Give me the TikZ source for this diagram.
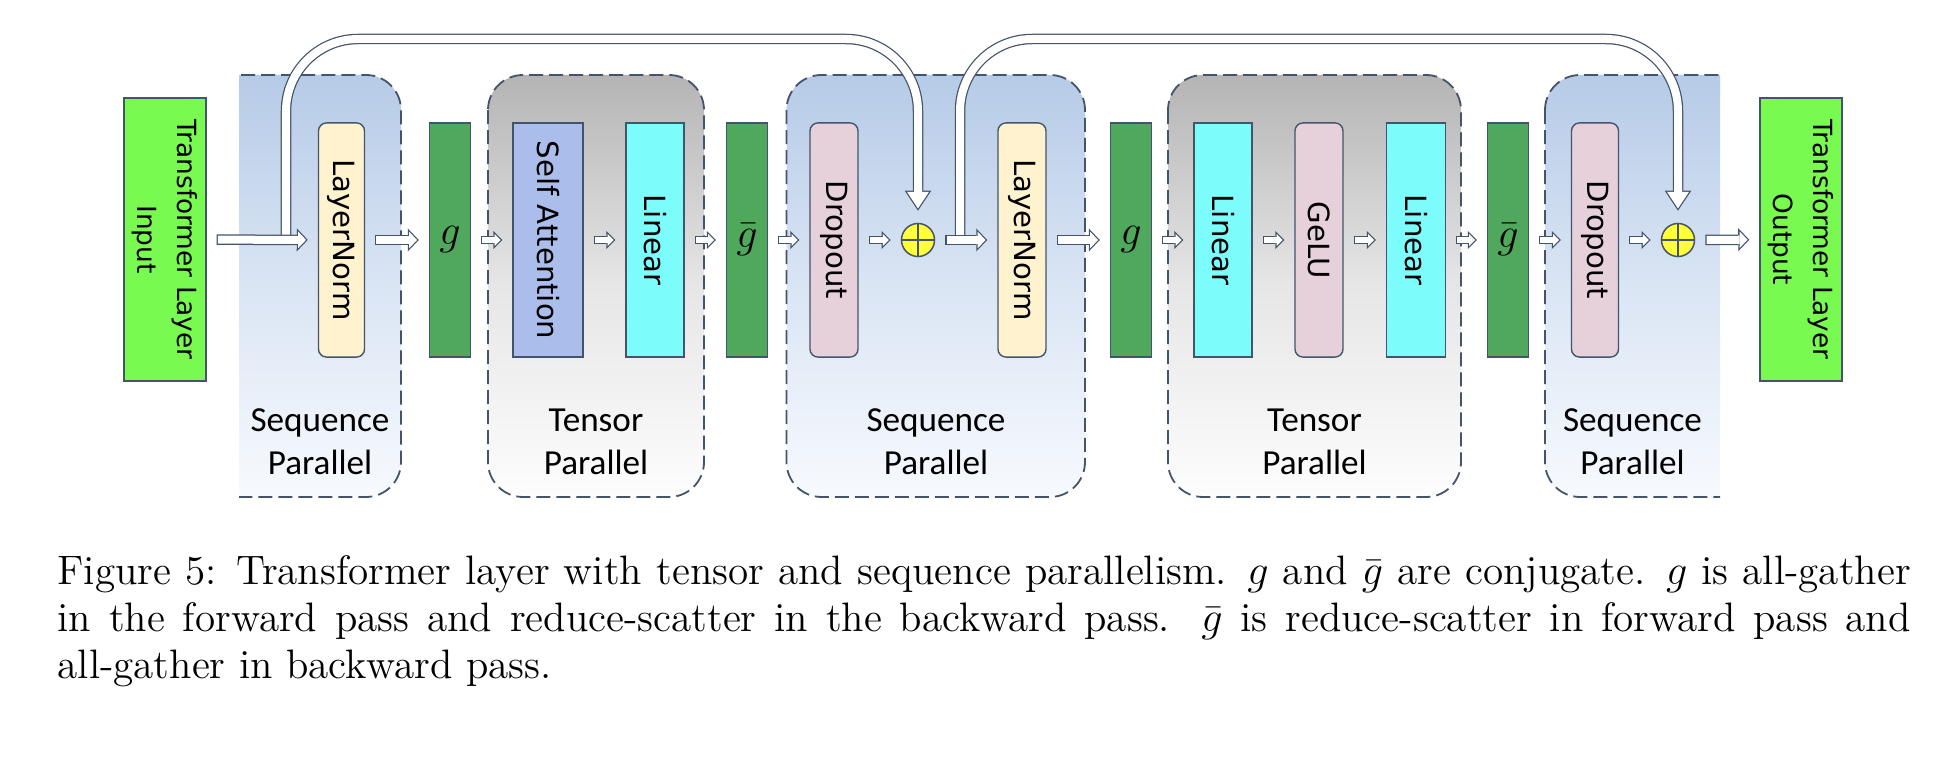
\documentclass[tikz,border=0pt]{standalone}
\usepackage{fontspec}
\usetikzlibrary{arrows.meta}

\newfontfamily\blockfont{DejaVu Sans}
\newfontfamily\groupfont{Carlito}

\definecolor{edge}{RGB}{68,84,106}
\definecolor{iogreen}{RGB}{120,250,80}
\definecolor{commgreen}{RGB}{80,168,92}
\definecolor{normyellow}{RGB}{255,242,206}
\definecolor{attnblue}{RGB}{170,189,235}
\definecolor{lincyan}{RGB}{125,252,252}
\definecolor{droppink}{RGB}{230,208,218}
\definecolor{addyellow}{RGB}{255,255,60}
\definecolor{seqtop}{RGB}{182,203,231}
\definecolor{seqmid}{RGB}{218,229,244}
\definecolor{seqbot}{RGB}{247,250,254}
\definecolor{tentop}{RGB}{180,180,180}
\definecolor{tenmid}{RGB}{230,230,230}
\definecolor{tenbot}{RGB}{253,253,253}

\begin{document}
\begin{tikzpicture}[x=0.01cm, y=-0.01cm,
    group/.style={draw=edge, line width=0.018cm, dash pattern=on 0.14cm off 0.06cm, rounded corners=0.35cm},
    seqgroup/.style={group, top color=seqtop, bottom color=seqbot, middle color=seqmid},
    tengroup/.style={group, top color=tentop, bottom color=tenbot, middle color=tenmid},
    grouplabel/.style={font=\groupfont\fontsize{10}{12}\selectfont, align=center, anchor=south, inner sep=0pt},
    block/.style={draw=edge, line width=0.014cm, rotate=-90, minimum width=2.34cm, inner sep=0pt,
      font=\blockfont\fontsize{8.3}{10}\selectfont},
    softblock/.style={block, rounded corners=0.08cm},
    iobox/.style={block, fill=iogreen, minimum width=2.83cm, minimum height=0.82cm, align=center,
      font=\blockfont\fontsize{7.5}{11.4}\selectfont},
    comm/.style={draw=edge, line width=0.014cm, fill=commgreen, minimum width=0.41cm, minimum height=2.34cm,
      inner sep=0pt, font=\fontsize{13}{15}\selectfont},
    add/.style={circle, draw=edge, line width=0.015cm, fill=addyellow, minimum size=0.33cm, inner sep=0pt,
      path picture={\draw[edge, line width=0.012cm] (path picture bounding box.north) -- (path picture bounding box.south)
        (path picture bounding box.west) -- (path picture bounding box.east);}},
    flow/.style={draw=white, line width=0.06cm, shorten <=0.1125cm, shorten >=0.1177cm,
      -{Triangle[length=0.06cm, width=0.12cm, line width=0pt]},
      preaction={draw=edge, line width=0.085cm, shorten <=0.1cm, shorten >=0.1cm,
        -{Triangle[length=0.09cm, width=0.18cm, line width=0pt]}}},
    bigflow/.style={draw=white, line width=0.08cm, shorten <=0.1125cm, shorten >=0.1173cm,
      -{Triangle[length=0.08cm, width=0.168cm, line width=0pt]},
      preaction={draw=edge, line width=0.105cm, shorten <=0.1cm, shorten >=0.1cm,
        -{Triangle[length=0.11cm, width=0.23cm, line width=0pt]}}},
    skip/.style={draw=white, line width=0.08cm, rounded corners=0.72cm, shorten >=0.1426cm,
      -{Triangle[length=0.165cm, width=0.2185cm, line width=0pt]},
      preaction={draw=edge, line width=0.105cm, shorten >=0.12cm,
        -{Triangle[length=0.2cm, width=0.265cm, line width=0pt]}}}]
  \useasboundingbox (0,0) rectangle (1956,770);

  \begin{scope}
    \clip (239,60) rectangle (420,510);
    \path[seqgroup] (190,75) rectangle (401,497);
  \end{scope}
  \path[tengroup] (488,75) rectangle (704,497);
  \path[seqgroup] (786.5,75) rectangle (1085,497);
  \path[tengroup] (1168,75) rectangle (1461,497);
  \begin{scope}
    \clip (1530,60) rectangle (1720,510);
    \path[seqgroup] (1545,75) rectangle (1770,497);
  \end{scope}

  \node[grouplabel] (seqlab1) at (320,475) {Sequence\\Parallel};
  \node[grouplabel] (tenlab1) at (596,475) {Tensor\\Parallel};
  \node[grouplabel] (seqlab2) at (936,475) {Sequence\\Parallel};
  \node[grouplabel] (tenlab2) at (1314.5,475) {Tensor\\Parallel};
  \node[grouplabel] (seqlab3) at (1632.5,475) {Sequence\\Parallel};

  \node[iobox] (in) at (165,239.5) {Transformer Layer\\Input};
  \node[softblock, fill=normyellow, minimum height=0.46cm] (ln1) at (341.5,240) {LayerNorm};
  \node[comm] (g1) at (450,240) {$g$};
  \node[block, fill=attnblue, minimum height=0.70cm] (sa) at (548,240) {Self Attention};
  \node[block, fill=lincyan, minimum height=0.58cm] (lin1) at (655,240) {Linear};
  \node[comm] (gb1) at (747,240) {$\bar{g}$};
  \node[softblock, fill=droppink, minimum height=0.48cm] (do1) at (834,240) {Dropout};
  \node[add] (plus1) at (918,240) {};
  \node[softblock, fill=normyellow, minimum height=0.48cm] (ln2) at (1022,240) {LayerNorm};
  \node[comm] (g2) at (1131,240) {$g$};
  \node[block, fill=lincyan, minimum height=0.58cm] (lin2) at (1223,240) {Linear};
  \node[softblock, fill=droppink, minimum height=0.48cm] (gelu) at (1319,240) {GeLU};
  \node[block, fill=lincyan, minimum height=0.59cm] (lin3) at (1416,240) {Linear};
  \node[comm] (gb2) at (1508,240) {$\bar{g}$};
  \node[softblock, fill=droppink, minimum height=0.47cm] (do2) at (1595,240) {Dropout};
  \node[add] (plus2) at (1678,240) {};
  \node[iobox] (out) at (1801,239.5) {Transformer Layer\\Output};

  \coordinate (tap1) at (286,240);
  \coordinate (tap2) at (960,240);
  \draw[skip] (tap1) -- ++(0,-201) -| (plus1.north);
  \draw[skip] (tap2) -- ++(0,-201) -| (plus2.north);

  \draw[bigflow] (in) -- (ln1);
  \draw[bigflow] (ln1) -- (g1);
  \draw[flow] (g1) -- (sa);
  \draw[flow] (sa) -- (lin1);
  \draw[flow] (lin1) -- (gb1);
  \draw[flow] (gb1) -- (do1);
  \draw[flow] (do1) -- (plus1);
  \draw[bigflow] (plus1) -- (ln2);
  \draw[bigflow] (ln2) -- (g2);
  \draw[flow] (g2) -- (lin2);
  \draw[flow] (lin2) -- (gelu);
  \draw[flow] (gelu) -- (lin3);
  \draw[flow] (lin3) -- (gb2);
  \draw[flow] (gb2) -- (do2);
  \draw[flow] (do2) -- (plus2);
  \draw[bigflow] (plus2) -- (out);

  \node[anchor=north west, inner sep=0pt, text width=18.52cm, align=justify,
    font=\fontsize{11.7}{13.4}\selectfont] (caption) at (57,554.5)
    {Figure 5: Transformer layer with tensor and sequence parallelism. $g$ and $\bar{g}$ are conjugate. $g$ is all-gather\linebreak
     in the forward pass and reduce-scatter in the backward pass. $\bar{g}$ is reduce-scatter in forward pass and\linebreak
     all-gather in backward pass.};
\end{tikzpicture}
\end{document}
